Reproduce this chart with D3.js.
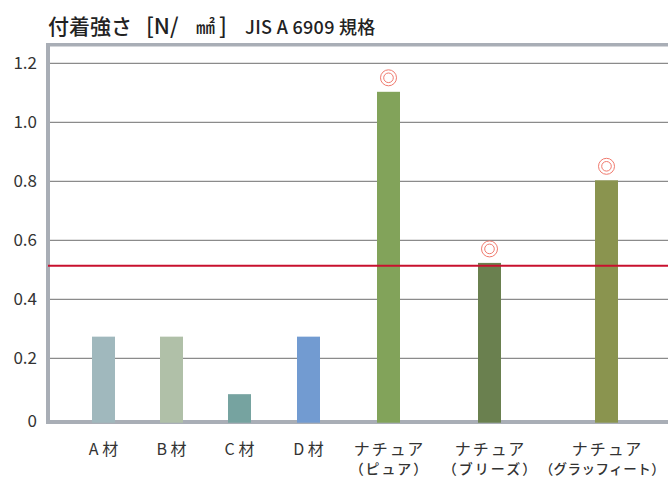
<!DOCTYPE html>
<html>
<head>
<meta charset="utf-8">
<script src="https://cdn.jsdelivr.net/npm/d3@7"></script>
<style>
  body { margin: 0; background: #fff; }
  text { font-family: "Noto Sans CJK JP", "Noto Sans", sans-serif; }
</style>
</head>
<body>
<svg width="668" height="478"></svg>
<script>
// data
const categories = ['A材', 'B材', 'C材', 'D材', 'ナチュア・ピュア', 'ナチュア・ブリーズ', 'ナチュア・グラッフィート'];
const labelLine1 = ['A 材', 'B 材', 'C 材', 'D 材', 'ナチュア', 'ナチュア', 'ナチュア'];
const labelLine2 = ['', '', '', '', '（ピュア）', '（ブリーズ）', '（グラッフィート）'];
const values = [0.27, 0.27, 0.075, 0.27, 1.1, 0.52, 0.8];
const marked = [false, false, false, false, true, true, true];
const barColors = ['#a0b8bd', '#b0c0a8', '#76a3a0', '#729bd1', '#82a35a', '#6a804f', '#8a944f'];
const yTicks = [0, 0.2, 0.4, 0.6, 0.8, 1.0, 1.2];
const standard = 0.51;

const width = 668;
const height = 478;
const left = 48;
const barWidth = 23;

const svg = d3.select('svg');

const y = d3.scaleLinear()
    .domain([0, 1.2])
    .range([416.3, 62.3]);

// uneven spacing, as in the reference (label widths differ)
const x = d3.scaleOrdinal()
    .domain(categories)
    .range([103.5, 171.5, 239.5, 308.5, 388.5, 489.5, 606.5]);

// gridlines + tick labels
const yAxis = d3.axisLeft(y)
    .tickValues(yTicks)
    .tickFormat(d => d === 0 ? '0' : d.toFixed(1))
    .tickSize(-(width - left))
    .tickPadding(11);

const gAxis = svg.append('g')
    .attr('transform', 'translate(' + left + ',0.5)')
    .call(yAxis);
gAxis.select('.domain').remove();
gAxis.selectAll('line').attr('stroke', '#6f6f6f').attr('stroke-width', 1);
gAxis.selectAll('.tick').filter(d => d === 0).select('line').remove();
gAxis.selectAll('text')
    .attr('font-family', '"Noto Sans", sans-serif')
    .attr('font-size', 17)
    .attr('fill', '#333');
gAxis.selectAll('.tick').filter(d => d === 0).select('text').attr('dy', '0.55em');

// frame
svg.append('rect')
    .attr('x', 46).attr('y', 43)
    .attr('width', width - 46).attr('height', 3.5)
    .attr('fill', '#a9aeb6');
svg.append('rect')
    .attr('x', 46).attr('y', 43)
    .attr('width', 4).attr('height', 381)
    .attr('fill', '#a9aeb6');
svg.append('rect')
    .attr('x', 46).attr('y', 420)
    .attr('width', width - 46).attr('height', 4)
    .attr('fill', '#a9aeb6');

// bars
svg.selectAll('.bar')
    .data(categories)
    .enter()
    .append('rect')
        .attr('class', 'bar')
        .attr('x', (d) => x(d) - barWidth / 2)
        .attr('y', (d, i) => y(values[i]))
        .attr('width', barWidth)
        .attr('height', (d, i) => y(0) + 6.4 - y(values[i]))
        .attr('fill', (d, i) => barColors[i]);

// JIS standard line
svg.append('line')
    .attr('x1', left).attr('x2', width)
    .attr('y1', y(standard)).attr('y2', y(standard))
    .attr('stroke', '#c8102e')
    .attr('stroke-width', 2);

// double circles above the passing products
const marks = svg.selectAll('.mark')
    .data(categories.filter((d, i) => marked[i]))
    .enter()
    .append('g')
        .attr('class', 'mark')
        .attr('transform', d => 'translate(' + x(d) + ',' + (y(values[categories.indexOf(d)]) - 14) + ')');
marks.append('circle').attr('r', 8).attr('fill', 'none').attr('stroke', '#f07a6e').attr('stroke-width', 1);
marks.append('circle').attr('r', 4.8).attr('fill', 'none').attr('stroke', '#f07a6e').attr('stroke-width', 1);

// category labels
svg.selectAll('.lab1')
    .data(categories)
    .enter()
    .append('text')
        .attr('class', 'lab1')
        .attr('x', d => x(d))
        .attr('dx', (d, i) => i > 3 ? 1 : 0)
        .attr('y', 455)
        .attr('text-anchor', 'middle')
        .attr('font-size', 16)
        .attr('letter-spacing', (d, i) => i > 3 ? 2 : 0)
        .attr('fill', '#333')
        .text((d, i) => labelLine1[i]);

svg.selectAll('.lab2')
    .data(categories)
    .enter()
    .append('text')
        .attr('class', 'lab2')
        .attr('x', d => x(d))
        .attr('dx', (d, i) => i === 6 ? -4 : 1)
        .attr('y', 474)
        .attr('text-anchor', 'middle')
        .attr('font-size', (d, i) => i === 6 ? 13.5 : 14)
        .attr('font-weight', 500)
        .attr('letter-spacing', (d, i) => i === 6 ? 0.5 : 2)
        .attr('fill', '#333')
        .text((d, i) => labelLine2[i]);

// title
const title = svg.append('text')
    .attr('y', 34)
    .attr('fill', '#222');
title.append('tspan')
    .attr('x', 48)
    .attr('font-size', 21)
    .attr('font-weight', 500)
    .text('付着強さ');
title.append('tspan')
    .attr('x', 146)
    .attr('font-size', 22)
    .attr('font-weight', 500)
    .text('[N/');
title.append('tspan')
    .attr('x', 196)
    .attr('font-size', 19)
    .attr('font-weight', 500)
    .text('㎟');
title.append('tspan')
    .attr('x', 219)
    .attr('font-size', 22)
    .attr('font-weight', 500)
    .text(']');
title.append('tspan')
    .attr('x', 245)
    .attr('font-size', 18)
    .attr('font-weight', 500)
    .attr('letter-spacing', 0.3)
    .text('JIS A 6909 規格');
</script>
</body>
</html>
